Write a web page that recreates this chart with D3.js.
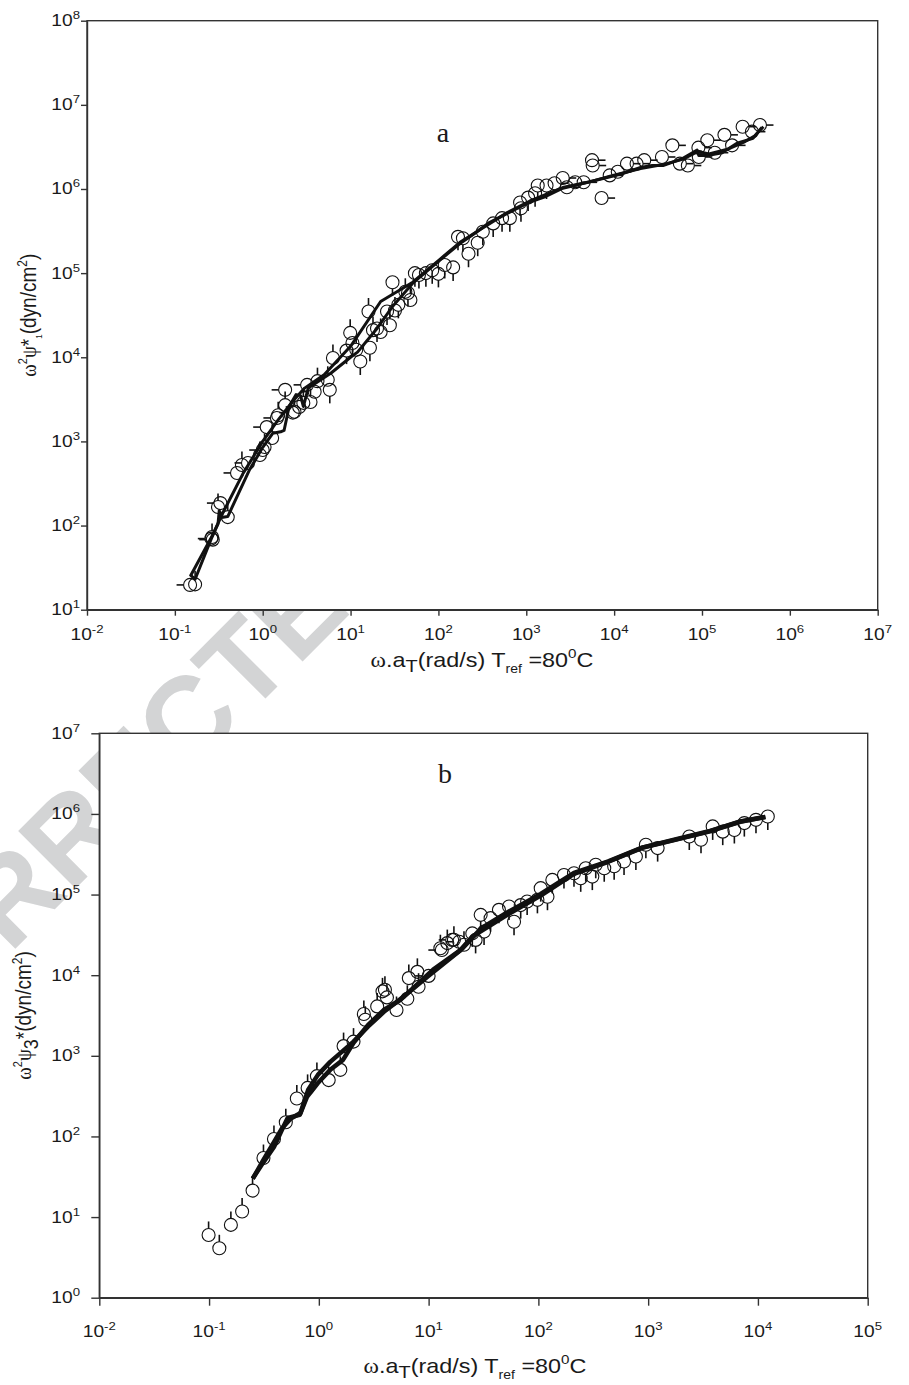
<!DOCTYPE html>
<html>
<head>
<meta charset="utf-8">
<script src="https://cdn.jsdelivr.net/npm/d3@7"></script>
<style>
  body { margin: 0; background: #fff; }
  svg { display: block; }
</style>
</head>
<body>
<svg id="fig" width="909" height="1385"></svg>
<script>

// panel a : w^2 psi1* vs reduced frequency, Tref = 80 C
var ptsA = [
  [0.149,19.7],[0.17,20],[0.26,70],[0.265,73],[0.27,68],[0.31,166],[0.33,185],[0.40,126],
  [0.51,422],[0.58,525],[0.68,555],[0.93,690],[1.0,790],[1.05,860],[1.11,1480],[1.28,1100],
  [1.45,1900],[1.5,2050],[1.8,4100],[1.8,2700],[2.2,2200],[2.3,2250],[2.6,2570],[2.9,2870],
  [3.2,4700],[3.5,2940],[3.9,3900],[4.2,5200],[5.5,5400],[5.8,4100],[6.3,9800],[9.0,12000],
  [9.9,19500],[10.5,14800],[11.6,12300],[12.9,8900],[16,35000],[16.6,13000],[18,21000],[20,22000],
  [22,20000],[26,35000],[28,24000],[30,78000],[32,36000],[35,42000],[42,60000],[45,58000],
  [48,48000],[54,100000],[60,95000],[72,100000],[85,108000],[100,98000],[118,125000],[147,117000],
  [167,270000],[190,260000],[220,170000],[280,230000],[320,310000],[420,390000],[530,450000],[650,450000],
  [850,690000],[870,590000],[1050,790000],[1260,890000],[1350,1100000],[1700,1100000],[2100,1170000],[2600,1350000],
  [2900,1050000],[3600,1200000],[4500,1200000],[5600,2200000],[5700,1900000],[7200,780000],[8900,1450000],[11000,1600000],
  [14000,2000000],[18000,2000000],[22000,2200000],[35000,2400000],[46000,3300000],[56000,2000000],[69000,1900000],[91000,3100000],
  [92000,2400000],[115000,3800000],[140000,2700000],[180000,4400000],[220000,3300000],[290000,5500000],[370000,4800000],[457000,5750000]
];
var fitA1 = [
  [0.15,26],[0.17,23],[0.26,70],[0.31,105],[0.32,150],[0.34,125],[0.40,128],[0.7,450],[1.0,850],
  [1.3,1250],[1.6,1300],[1.75,1350],[2.0,2600],[2.4,3600],[2.7,3500],[2.9,2600],[3.3,4300],[6,6500],
  [10,10000],[12,11500],[20,22000],[30,40000],[51,76000],[104,143000],[176,225000],[250,290000],
  [380,400000],[600,510000],[1100,700000],[1600,800000],[2600,1020000],[4500,1170000],[9000,1400000],
  [13000,1550000],[20000,1800000],[27000,1900000],[36000,1900000],[60000,2300000],[88000,2900000],
  [92000,2500000],[115000,2500000],[170000,2700000],[250000,3500000],[380000,4000000],[480000,5400000]
];
var fitA2 = [
  [0.15,25],[0.26,72],[0.35,140],[0.6,420],[1.0,1000],[1.5,1800],[2.2,3000],[3,4300],[5,6200],
  [10,13500],[22,46000],[51,78000],[104,146000],[176,232000],[300,330000],[600,520000],[1100,720000],
  [2600,1040000],[5000,1200000],[9000,1420000],[20000,1750000],[36000,1950000],[60000,2250000],
  [90000,2800000],[120000,2600000],[200000,3000000],[300000,3600000],[400000,4300000],[500000,5500000]
];

// panel b : w^2 psi3* vs reduced frequency
var ptsB = [
  [0.099,6.0],[0.124,4.1],[0.158,8.0],[0.2,11.7],[0.249,21.3],[0.313,54],[0.39,93],[0.50,150],
  [0.63,295],[0.79,400],[0.96,560],[1.23,500],[1.57,670],[1.68,1320],[2.07,1500],[2.57,3300],
  [2.65,2800],[3.4,4100],[3.8,6300],[4.0,6600],[4.17,5300],[5.1,3700],[6.4,5100],[6.6,9200],
  [7.9,11000],[8.1,7200],[10,9800],[12.8,21600],[13.2,20500],[14.8,25000],[16.4,27400],[17,27500],
  [19,26000],[21,23800],[25,33000],[26.8,27400],[29.8,56000],[32,34700],[36.7,51000],[43.7,64600],
  [54,71000],[60,46000],[69,74000],[79,82000],[98,86000],[105,120000],[121,94000],[134,152000],
  [171,175000],[211,184000],[243,159000],[270,212000],[310,167000],[333,234000],[398,212000],[490,224000],
  [603,257000],[773,296000],[953,414000],[1220,377000],[2370,525000],[3030,478000],[3870,700000],[4780,603000],
  [6100,632000],[7520,770000],[9600,845000],[12300,929000]
];
var fitB1 = [
  [0.25,30],[0.31,47],[0.39,74],[0.46,120],[0.52,170],[0.67,185],[0.78,310],[0.98,460],[1.27,670],
  [1.66,890],[2.07,1450],[2.8,2400],[3.9,3700],[5.5,4900],[11,11700],[19.5,20500],[25,30000],[52,56000],
  [105,97000],[211,180000],[433,255000],[880,380000],[1800,480000],[3500,600000],[6900,800000],[11700,915000]
];
var fitB2 = [
  [0.25,30],[0.31,50],[0.39,85],[0.46,125],[0.55,165],[0.68,195],[0.8,380],[0.98,580],[1.27,840],
  [1.57,1080],[2.07,1500],[2.8,2300],[4,3600],[6,5500],[10,9800],[20,21000],[30,38000],[52,60000],
  [105,102000],[211,186000],[433,258000],[880,382000],[1800,485000],[3500,605000],[6900,805000],[11700,920000]
];

var xExpA = [-2,-1,0,1,2,3,4,5,6,7];
var yExpA = [1,2,3,4,5,6,7,8];
var xExpB = [-2,-1,0,1,2,3,4,5];
var yExpB = [0,1,2,3,4,5,6,7];

var svg = d3.select("#fig");
var SANS = "'Liberation Sans', Arial, Helvetica, sans-serif";
var SERIF = "'Liberation Serif', 'Times New Roman', serif";
var INK = "#1a1a1a";

// proof watermark, sits under the plot areas
svg.append("text")
  .attr("transform", "translate(-236,1200) rotate(-45)")
  .attr("font-family", SANS)
  .attr("font-weight", "bold")
  .attr("font-size", 118)
  .attr("fill", "#d3d4d5")
  .text("UNCORRECTED PROOF");

function stubDir(panel, d, i){
  var x = d[0];
  if (panel == "a") {
    if (x < 5) return i % 2 ? "u" : "l";
    if (x < 50) return i % 2 ? "d" : "u";
    if (x < 2000) return "d";
    return "r";
  }
  if (x < 10) return "u";
  if (x < 22) return i % 2 ? "u" : "l";
  return "d";
}

function drawPanel(c){
  var x = d3.scaleLog().domain(c.xDom).range([c.left, c.right]);
  var y = d3.scaleLog().domain(c.yDom).range([c.bottom, c.top]);
  var g = svg.append("g");

  g.append("rect")
    .attr("x", c.left).attr("y", c.top)
    .attr("width", c.right - c.left).attr("height", c.bottom - c.top)
    .attr("fill", "#fff");

  var xAxis = d3.axisBottom(x)
    .tickValues(c.xExp.map(function(e){ return Math.pow(10, e); }))
    .tickSize(c.tick).tickSizeOuter(0).tickFormat("");
  var yAxis = d3.axisLeft(y)
    .tickValues(c.yExp.map(function(e){ return Math.pow(10, e); }))
    .tickSize(c.tick).tickSizeOuter(0).tickFormat("");

  var gx = g.append("g").attr("transform", "translate(0," + c.bottom + ")").call(xAxis);
  var gy = g.append("g").attr("transform", "translate(" + c.left + ",0)").call(yAxis);
  [gx, gy].forEach(function(a){
    a.selectAll("path,line").attr("stroke", "#333").attr("stroke-width", 1.4);
  });

  // power-of-ten labels
  c.xExp.forEach(function(e){
    var t = g.append("g")
      .attr("transform", "translate(" + x(Math.pow(10, e)) + "," + (c.bottom + c.xLabOff) + ") scale(1.2,1)")
      .append("text")
      .attr("text-anchor", "middle")
      .attr("font-family", SANS).attr("font-size", 16).attr("fill", INK);
    t.append("tspan").text("10");
    t.append("tspan").attr("dy", -7).attr("font-size", 11).text(e);
  });
  c.yExp.forEach(function(e){
    var t = g.append("g")
      .attr("transform", "translate(" + c.yLabRight + "," + (y(Math.pow(10, e)) + 5.5) + ") scale(1.2,1)")
      .append("text")
      .attr("text-anchor", "end")
      .attr("font-family", SANS).attr("font-size", 16).attr("fill", INK);
    t.append("tspan").text("10");
    t.append("tspan").attr("dy", -7).attr("font-size", 11).text(e);
  });

  // model curves
  var line = d3.line()
    .x(function(d){ return x(d[0]); })
    .y(function(d){ return y(d[1]); });
  c.fits.forEach(function(f){
    g.append("path")
      .datum(f)
      .attr("d", line)
      .attr("fill", "none")
      .attr("stroke", "#111")
      .attr("stroke-width", c.lineW)
      .attr("stroke-linejoin", "round");
  });

  // open symbols with their short error stubs
  var r = 6.5, len = 7;
  var pts = g.append("g").selectAll("g.pt")
    .data(c.pts)
    .enter().append("g")
    .attr("class", "pt")
    .attr("transform", function(d){ return "translate(" + x(d[0]) + "," + y(d[1]) + ")"; });
  pts.append("line")
    .each(function(d, i){
      var dir = stubDir(c.name, d, i);
      var v = { u: [0, -1], d: [0, 1], l: [-1, 0], r: [1, 0] }[dir];
      d3.select(this)
        .attr("x1", v[0] * r).attr("y1", v[1] * r)
        .attr("x2", v[0] * (r + len)).attr("y2", v[1] * (r + len));
    })
    .attr("stroke", "#111").attr("stroke-width", 1.6);
  pts.append("circle")
    .attr("r", r)
    .attr("fill", "none")
    .attr("stroke", "#111")
    .attr("stroke-width", 1.1);

  // frame
  g.append("rect")
    .attr("x", c.left).attr("y", c.top)
    .attr("width", c.right - c.left).attr("height", c.bottom - c.top)
    .attr("fill", "none").attr("stroke", "#333").attr("stroke-width", 1.4);

  // panel letter
  g.append("text")
    .attr("x", c.letterX).attr("y", c.letterY)
    .attr("text-anchor", "middle")
    .attr("font-family", SERIF).attr("font-size", 28).attr("fill", INK)
    .text(c.name);

  // x title
  var xt = g.append("g")
    .attr("transform", "translate(" + c.xTitleX + "," + c.xTitleY + ") scale(1.17,1)")
    .append("text")
    .attr("text-anchor", "middle")
    .attr("font-family", SANS).attr("font-size", 20).attr("fill", INK);
  xt.append("tspan").attr("font-family", SERIF).text("ω");
  xt.append("tspan").text(".a");
  xt.append("tspan").attr("dy", 5).attr("font-size", 17).text("T");
  xt.append("tspan").attr("dy", -5).text("(rad/s) T");
  xt.append("tspan").attr("dy", 6).attr("font-size", 12).text("ref");
  xt.append("tspan").attr("dy", -6).text(" =80");
  xt.append("tspan").attr("dy", -9).attr("font-size", 13).text("0");
  xt.append("tspan").attr("dy", 9).text("C");

  // y title
  var yt = g.append("g")
    .attr("transform", "translate(" + c.yTitleX + "," + ((c.top + c.bottom) / 2) + ") rotate(-90) scale(1,1.15)")
    .append("text")
    .attr("text-anchor", "middle")
    .attr("font-family", SANS).attr("font-size", 19).attr("fill", INK);
  yt.append("tspan").attr("font-family", SERIF).text("ω");
  yt.append("tspan").attr("dy", -8).attr("font-size", 11).text("2");
  yt.append("tspan").attr("dy", 8).attr("font-family", SERIF).text("ψ");
  if (c.name == "a") {
    yt.append("tspan").text("*");
    yt.append("tspan").attr("dy", 5).attr("font-size", 8).text("1");
    yt.append("tspan").attr("dy", -5).text("(dyn/cm");
  } else {
    yt.append("tspan").attr("dy", 6).attr("font-size", 18).text("3");
    yt.append("tspan").attr("dy", -6).text("*(dyn/cm");
  }
  yt.append("tspan").attr("dy", -8).attr("font-size", 12).text("2");
  yt.append("tspan").attr("dy", 8).text(")");
}

drawPanel({
  name: "a", pts: ptsA, fits: [fitA1, fitA2],
  xDom: [1e-2, 1e7], yDom: [1e1, 1e8], xExp: xExpA, yExp: yExpA,
  left: 87, right: 877.7, top: 20.7, bottom: 609.7, tick: 6,
  xLabOff: 30, yLabRight: 80, lineW: 3,
  letterX: 443, letterY: 142, xTitleX: 482, xTitleY: 667, yTitleX: 36
});

drawPanel({
  name: "b", pts: ptsB, fits: [fitB1, fitB2],
  xDom: [1e-2, 1e5], yDom: [1e0, 1e7], xExp: xExpB, yExp: yExpB,
  left: 99.3, right: 867.7, top: 733.3, bottom: 1297.7, tick: 8,
  xLabOff: 39, yLabRight: 80, lineW: 4.5,
  letterX: 445, letterY: 783, xTitleX: 475, xTitleY: 1373, yTitleX: 31
});

</script>
</body>
</html>
